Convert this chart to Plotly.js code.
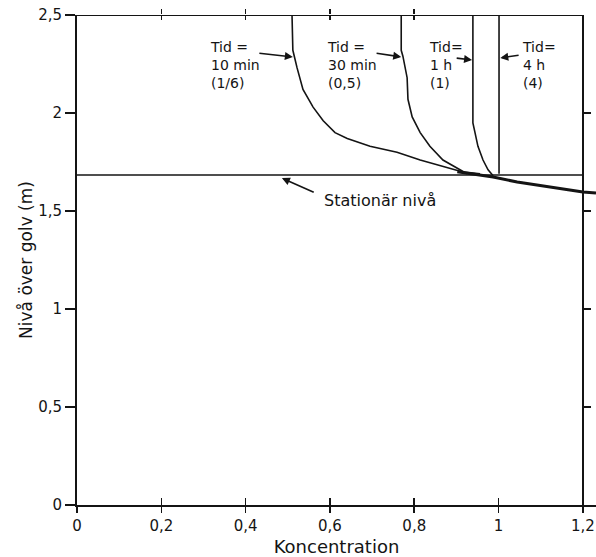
<!DOCTYPE html>
<html>
<head>
<meta charset="utf-8">
<script src="https://cdn.plot.ly/plotly-3.0.1.min.js"></script>
<style>html,body{margin:0;padding:0;background:#fff;}#chart{width:596px;height:557px;}</style>
</head>
<body>
<div id="chart"></div>
<script>
// ---- data ----
const xTicks = [0, 0.2, 0.4, 0.6, 0.8, 1, 1.2];
const xTickText = ["0", "0,2", "0,4", "0,6", "0,8", "1", "1,2"];
const yTicks = [0, 0.5, 1, 1.5, 2, 2.5];
const yTickText = ["0", "0,5", "1", "1,5", "2", "2,5"];
const topTicks = [0.2, 0.4, 0.6, 0.8];
const rightTicks = [0.5, 1, 1.5, 2];

const c10 = [0.510, 0.512, 0.522, 0.536, 0.560, 0.584, 0.612, 0.641, 0.695, 0.759, 0.814, 0.878, 0.913, 0.956];
const h10 = [2.50, 2.32, 2.23, 2.12, 2.03, 1.96, 1.90, 1.87, 1.83, 1.80, 1.76, 1.72, 1.70, 1.69];

const c30 = [0.769, 0.769, 0.773, 0.783, 0.785, 0.795, 0.814, 0.837, 0.868, 0.902, 0.925];
const h30 = [2.50, 2.32, 2.29, 2.18, 2.07, 1.98, 1.90, 1.83, 1.76, 1.72, 1.69];

const c1h = [0.939, 0.939, 0.944, 0.951, 0.963, 0.975, 0.987];
const h1h = [2.50, 1.95, 1.90, 1.83, 1.76, 1.71, 1.68];

const c4h = [1.001, 1.001];
const h4h = [2.50, 1.69];

const cCommon = [0.902, 0.987, 1.044, 1.122, 1.200, 1.231];
const hCommon = [1.700, 1.673, 1.648, 1.622, 1.597, 1.592];

const stationaryLevel = 1.684;
const xMax = 1.2;
const yMax = 2.5;

// ---- chart ----
const ink = '#141414';
const font = 'DejaVu Sans, sans-serif';
const line = (x, y, w) => ({x, y, mode: 'lines', type: 'scatter', line: {color: ink, width: w}, hoverinfo: 'skip', showlegend: false});

const traces = [
  line(c10, h10, 1.6),
  line(c30, h30, 1.6),
  line(c1h, h1h, 1.6),
  line(c4h, h4h, 1.6),
  line(cCommon, hCommon, 3),
  line([0, xMax], [stationaryLevel, stationaryLevel], 1.6),
  line([0, xMax], [yMax, yMax], 2),
  Object.assign(line([], [], 1), {xaxis: 'x2', yaxis: 'y'}),
  Object.assign(line([], [], 1), {xaxis: 'x3', yaxis: 'y'}),
  Object.assign(line([], [], 1), {xaxis: 'x4', yaxis: 'y'}),
  Object.assign(line([], [], 1), {xaxis: 'x', yaxis: 'y2'})
];

const xr = [0, 1.231];
const baseAx = {showgrid: false, zeroline: false, tickcolor: ink, tickwidth: 1.6, linecolor: ink, linewidth: 2, fixedrange: true};

const tA = (x, y, text, anchor, size) => ({x, y, xref: 'x', yref: 'y', text, showarrow: false, xanchor: anchor, yanchor: 'middle', align: anchor === 'left' ? 'left' : 'center', font: {family: font, size: size || 14, color: ink}});
const arr = (ax, ay, x, y) => ({x, y, ax, ay, axref: 'x', ayref: 'y', xref: 'x', yref: 'y', text: '', showarrow: true, arrowhead: 2, arrowsize: 1, arrowwidth: 1.6, arrowcolor: ink});

const layout = {
  width: 596, height: 557,
  margin: {l: 77, r: 0, t: 15, b: 52},
  paper_bgcolor: '#fff', plot_bgcolor: '#fff',
  font: {family: font, color: ink, size: 14},
  showlegend: false,
  xaxis: Object.assign({}, baseAx, {range: xr, tickvals: xTicks, ticktext: xTickText, ticks: 'outside', ticklen: 6, showline: true,
    tickfont: {family: font, size: 15, color: ink},
    title: {text: 'Koncentration', font: {family: font, size: 18, color: ink}, standoff: 8}}),
  xaxis2: Object.assign({}, baseAx, {range: xr, overlaying: 'x', anchor: 'y', side: 'bottom', tickvals: xTicks, ticks: 'inside', ticklen: 7, showticklabels: false, showline: false}),
  xaxis3: Object.assign({}, baseAx, {range: xr, overlaying: 'x', anchor: 'y', side: 'top', tickvals: topTicks, ticks: 'outside', ticklen: 5, showticklabels: false, showline: false}),
  xaxis4: Object.assign({}, baseAx, {range: xr, overlaying: 'x', anchor: 'y', side: 'top', tickvals: topTicks, ticks: 'inside', ticklen: 5, showticklabels: false, showline: false}),
  yaxis: Object.assign({}, baseAx, {range: [0, yMax], tickvals: yTicks, ticktext: yTickText, ticks: 'outside', ticklen: 10, showline: true,
    tickfont: {family: font, size: 15, color: ink},
    title: {text: 'Nivå över golv (m)', font: {family: font, size: 17, color: ink}, standoff: 1}}),
  yaxis2: Object.assign({}, baseAx, {range: [0, yMax], overlaying: 'y', anchor: 'free', position: xMax / xr[1], side: 'right', tickvals: rightTicks, ticks: 'outside', ticklen: 7, showticklabels: false, showline: true}),
  annotations: [
    tA(0.311, 2.245, 'Tid =<br>10 min<br>(1/6)', 'left'),
    arr(0.429, 2.306, 0.512, 2.286),
    tA(0.588, 2.245, 'Tid =<br>30 min<br>(0,5)', 'left'),
    arr(0.707, 2.306, 0.769, 2.286),
    tA(0.830, 2.245, 'Tid=<br>1 h<br>(1)', 'left'),
    arr(0.897, 2.281, 0.937, 2.270),
    tA(1.051, 2.245, 'Tid=<br>4 h<br>(4)', 'left'),
    arr(1.051, 2.296, 1.004, 2.281),
    tA(0.581, 1.556, 'Stationär nivå', 'left', 16),
    arr(0.565, 1.592, 0.486, 1.668)
  ]
};

Plotly.newPlot('chart', traces, layout, {staticPlot: true, displayModeBar: false});
</script>
</body>
</html>
